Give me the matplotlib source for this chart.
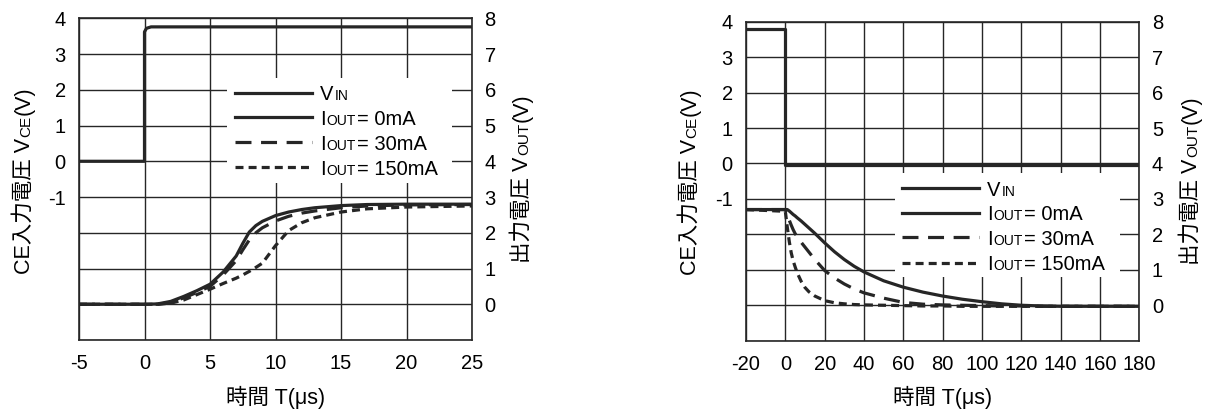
import matplotlib
matplotlib.use("Agg")
import matplotlib.pyplot as plt
from matplotlib.lines import Line2D
from matplotlib.patches import Rectangle

# ---- data -----------------------------------------------------------------

# turn-on: CE input steps up at t=0, output rises
t_on_vin = [-5, 0, 0, 0.15, 0.5, 25]
vin_on = [0, 0, 3.62, 3.72, 3.76, 3.76]

t_on = [-5, 0, 1, 2, 3, 4, 5, 6, 7, 7.5, 8, 8.5, 9, 10, 11, 12, 13, 15, 17, 20, 25]
vout_on_0ma = [0, 0, 0.01, 0.08, 0.22, 0.38, 0.56, 0.9, 1.35, 1.7, 2.02, 2.2, 2.32,
               2.48, 2.58, 2.65, 2.7, 2.76, 2.79, 2.8, 2.8]
vout_on_30ma = [0, 0, 0.0, 0.05, 0.18, 0.33, 0.5, 0.82, 1.22, 1.52, 1.8, 2.0, 2.14,
                2.33, 2.46, 2.55, 2.61, 2.7, 2.75, 2.78, 2.79]
vout_on_150ma = [0, 0, 0, 0.03, 0.12, 0.27, 0.42, 0.58, 0.73, 0.82, 0.92, 1.03, 1.15,
                 1.64, 2.06, 2.28, 2.42, 2.58, 2.67, 2.72, 2.75]

# turn-off: CE input drops at t=0, output discharges
t_off_vin = [-20, 0, 0, 180]
vin_off = [3.8, 3.8, -0.03, -0.03]

t_off = [-20, 0, 1, 2, 3, 4, 5, 6, 8, 10, 12, 15, 20, 25, 30, 35, 40, 50, 60,
         70, 80, 90, 100, 110, 120, 130, 140, 180]
vout_off_0ma = [2.7, 2.7, 2.7, 2.66, 2.61, 2.56, 2.52, 2.47, 2.38, 2.28, 2.18, 2.03, 1.76,
                1.51, 1.29, 1.1, 0.94, 0.69, 0.51, 0.37, 0.26, 0.17, 0.1, 0.04, 0.0,
                -0.02, -0.03, -0.03]
vout_off_30ma = [2.7, 2.7, 2.55, 2.4, 2.26, 2.13, 2.02, 1.93, 1.78, 1.64, 1.5, 1.29, 0.98,
                 0.77, 0.6, 0.46, 0.35, 0.2, 0.08, 0.03, 0.01, 0.0, -0.01, -0.02,
                 -0.02, -0.03, -0.03, -0.03]
vout_off_150ma = [2.7, 2.65, 2.2, 1.8, 1.48, 1.25, 1.08, 0.92, 0.68, 0.5, 0.38, 0.26,
                  0.13, 0.07, 0.04, 0.02, 0.01, 0.0, -0.01, -0.02, -0.02, -0.03,
                  -0.03, -0.03, -0.03, -0.03, -0.03, -0.03]

xticks_on = list(range(-5, 26, 5))
xticks_off = list(range(-20, 181, 20))
yticks_ce = list(range(-5, 5))
yticks_out = list(range(0, 9))

# ---- style ------------------------------------------------------------------

W, H = 1208, 412
plt.rcParams["font.family"] = ["Liberation Sans", "Noto Sans CJK JP"]
plt.rcParams["axes.unicode_minus"] = False

LINE = "#262626"
LW = 2.3
DASH = (0, (5, 3))
SHORT = (0, (2.5, 1.6))
TICK_FS = 14.5
LEG_FS, LEG_SMALL = 14.5, 10
LAB_FS, LAB_SMALL = 15.5, 11

fig = plt.figure(figsize=(W / 100, H / 100), dpi=100)


def frac(x, y):
    # figure pixel (top-left origin) -> figure fraction
    return x / W, 1 - y / H


def rich(x, y, pieces, rotation=0, center=False):
    # text made of pieces with different sizes on one baseline
    r = fig.canvas.get_renderer()
    texts = [fig.text(0, 0, s, fontsize=sz, rotation=rotation, rotation_mode="anchor",
                      ha="left", va="baseline", zorder=6) for s, sz in pieces]
    sizes = []
    for t in texts:
        bb = t.get_window_extent(r)
        sizes.append(bb.height if rotation else bb.width)
    total = sum(sizes) + 1.0 * (len(sizes) - 1)
    if rotation:
        pos = y + total / 2 if center else y
    else:
        pos = x - total / 2 if center else x
    for t, s in zip(texts, sizes):
        if rotation:
            t.set_position(frac(x, pos))
            pos -= s + 1.0
        else:
            t.set_position(frac(pos, y))
            pos += s + 1.0


def make_axes(left, top, right, bottom, xlim, xticks):
    ax = fig.add_axes([left / W, 1 - bottom / H, (right - left) / W, (bottom - top) / H])
    ax.set_xlim(*xlim)
    ax.set_ylim(-5, 4)
    ax.set_xticks(xticks)
    ax.set_xticklabels([str(v) for v in xticks])
    ax.set_yticks(yticks_ce)
    ax.set_yticklabels([str(v) if v >= -1 else "" for v in yticks_ce])
    ax.grid(True, color=LINE, lw=1.0)
    ax.tick_params(length=0, labelsize=TICK_FS)
    ax.tick_params(axis="x", pad=10)
    ax.tick_params(axis="y", pad=9.5)
    for s in ax.spines.values():
        s.set_color(LINE)
        s.set_linewidth(1.2)
    ax2 = ax.twinx()
    ax2.set_ylim(-1, 8)
    ax2.set_yticks(yticks_out)
    ax2.tick_params(length=0, labelsize=TICK_FS, pad=9)
    for s in ax2.spines.values():
        s.set_visible(False)
    return ax, ax2


def legend(x_line, x_text, rows_y, box):
    fig.add_artist(Rectangle(frac(box[0], box[3]), (box[2] - box[0]) / W,
                             (box[3] - box[1]) / H, transform=fig.transFigure,
                             facecolor="white", edgecolor="none", zorder=4))
    styles = ["-", "-", DASH, SHORT]
    labels = [[("V", LEG_FS), ("IN", LEG_SMALL)],
              [("I", LEG_FS), ("OUT", LEG_SMALL), ("= 0mA", LEG_FS)],
              [("I", LEG_FS), ("OUT", LEG_SMALL), ("= 30mA", LEG_FS)],
              [("I", LEG_FS), ("OUT", LEG_SMALL), ("= 150mA", LEG_FS)]]
    for y, st, lab in zip(rows_y, styles, labels):
        fig.add_artist(Line2D([x_line / W, (x_line + 77) / W], [1 - y / H] * 2,
                              transform=fig.transFigure, color=LINE, lw=LW,
                              linestyle=st, zorder=5))
        rich(x_text, y + 7.5, lab)


# ---- turn-on chart ------------------------------------------------------------
ax, ax2 = make_axes(79, 18.3, 472, 340, (-5, 25), xticks_on)
ax.plot(t_on_vin, vin_on, color=LINE, lw=LW)
ax2.plot(t_on, vout_on_150ma, color=LINE, lw=LW, linestyle=SHORT)
ax2.plot(t_on, vout_on_30ma, color=LINE, lw=LW, linestyle=DASH)
ax2.plot(t_on, vout_on_0ma, color=LINE, lw=LW)
legend(235, 320, [92.7, 117.3, 142, 167.3], (227, 78, 452, 183))

# ---- turn-off chart -----------------------------------------------------------
bx, bx2 = make_axes(746, 21.7, 1139.3, 340.7, (-20, 180), xticks_off)
bx.plot(t_off_vin, vin_off, color=LINE, lw=LW)
bx2.plot(t_off, vout_off_150ma, color=LINE, lw=LW, linestyle=SHORT)
bx2.plot(t_off, vout_off_30ma, color=LINE, lw=LW, linestyle=DASH)
bx2.plot(t_off, vout_off_0ma, color=LINE, lw=LW)
legend(902, 987, [188.3, 212.7, 237.3, 262.7], (895, 173, 1120, 277))

# ---- axis titles ----------------------------------------------------------------
ce_label = [("CE入力電圧 V", LAB_FS), ("CE", LAB_SMALL), ("(V)", LAB_FS)]
out_label = [("出力電圧 V", LAB_FS), ("OUT", LAB_SMALL), ("(V)", LAB_FS)]
rich(30, 180, ce_label, rotation=90, center=True)
rich(528, 178, out_label, rotation=90, center=True)
rich(696, 181, ce_label, rotation=90, center=True)
rich(1197, 180, out_label, rotation=90, center=True)

for xc in (275.5, 942.6):
    x, y = frac(xc, 397)
    fig.text(x, y, "時間 T(μs)", fontsize=LAB_FS, ha="center", va="center")

fig.savefig("out.png", dpi=100)
